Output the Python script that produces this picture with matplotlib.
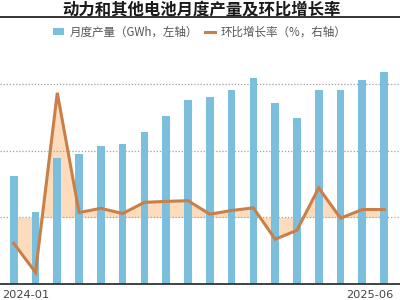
import matplotlib
matplotlib.use("Agg")
import matplotlib.pyplot as plt
from matplotlib.lines import Line2D
from matplotlib.patches import Patch
import matplotlib.transforms as mtransforms

plt.rcParams['font.family'] = ['Noto Sans CJK SC', 'DejaVu Sans']

months = ["2024-01", "2024-02", "2024-03", "2024-04", "2024-05", "2024-06",
          "2024-07", "2024-08", "2024-09", "2024-10", "2024-11", "2024-12",
          "2025-01", "2025-02", "2025-03", "2025-04", "2025-05", "2025-06"]
production = [65.0, 43.3, 75.8, 78.2, 82.9, 84.1, 91.7, 100.8, 110.4,
              112.4, 116.4, 123.6, 108.7, 99.9, 116.9, 116.9, 122.5, 127.5]
growth = [-15.5, -33.0, 75.0, 3.0, 5.5, 2.4, 9.1, 9.7, 10.1,
          2.0, 4.2, 5.8, -13.1, -7.7, 17.8, -0.4, 4.8, 4.8]
tick_labels = ["2024-01", "2025-06"]

BAR = "#7bbfdc"
LINE = "#c98048"
FILL = "#fcdcbd"

fig = plt.figure(figsize=(4, 3), dpi=100)
rect = [0, 0.0533, 1, 0.776]
ax_fill = fig.add_axes(rect)
ax = fig.add_axes(rect, sharex=ax_fill)
ax2 = fig.add_axes(rect, sharex=ax_fill)
for a in (ax_fill, ax, ax2):
    a.patch.set_visible(False)
ax_fill.set_zorder(0)
ax.set_zorder(1)
ax2.set_zorder(2)

x = list(range(len(months)))

ax_fill.fill_between(x, growth, 0, color=FILL, linewidth=0)
ax_fill.set_ylim(-40, 100)

ax.bar(x, production, width=0.35, color=BAR, zorder=2)
ax.set_ylim(0, 140)
ax.set_yticks([40, 80, 120])
ax.yaxis.grid(True, linestyle=(0, (1, 1.5)), color="#a0a0a0", linewidth=0.9)
ax.set_axisbelow(True)

ax2.plot(x, growth, color=LINE, linewidth=2.2, solid_joinstyle='miter')
ax2.set_ylim(-40, 100)

ax_fill.set_xlim(-0.63, 17.73)

for a in (ax_fill, ax, ax2):
    for s in ("top", "left", "right"):
        a.spines[s].set_visible(False)
    a.tick_params(axis='y', left=False, right=False, labelleft=False, labelright=False)
    a.tick_params(axis='x', bottom=False, labelbottom=False)
    a.spines["bottom"].set_visible(False)

ax.spines["bottom"].set_visible(True)
ax.spines["bottom"].set_color("#333333")
ax.spines["bottom"].set_linewidth(1.3)

ax.set_xticks([0, 17])
ax.set_xticklabels(tick_labels, fontfamily='DejaVu Sans')
ax.tick_params(axis='x', bottom=False, labelbottom=True, labelsize=8.2,
               labelcolor="#444444", pad=0.6)
lbls = ax.get_xticklabels()
lbls[0].set_horizontalalignment('left')
lbls[0].set_transform(lbls[0].get_transform() +
                      mtransforms.ScaledTranslation(-11.5 / 100, 0, fig.dpi_scale_trans))
lbls[1].set_horizontalalignment('right')
lbls[1].set_transform(lbls[1].get_transform() +
                      mtransforms.ScaledTranslation(9 / 100, 0, fig.dpi_scale_trans))

fig.text(0.503, 0.965, "动力和其他电池月度产量及环比增长率", ha='center', va='center',
         fontsize=11.8, fontweight='bold', color="#1a1a1a")
fig.add_artist(Line2D([0, 1], [1 - 16.8 / 300, 1 - 16.8 / 300], color="#333333",
                      linewidth=1.4, transform=fig.transFigure))

handles = [Patch(facecolor=BAR, edgecolor='none'),
           Line2D([0], [0], color=LINE, linewidth=2.2)]
fig.legend(handles, ["月度产量（GWh，左轴）", "环比增长率（%，右轴）"],
           loc='center', bbox_to_anchor=(0.5, 1 - 32 / 300), ncol=2, frameon=False,
           fontsize=8.3, labelcolor="#555555", handlelength=0.9, handleheight=0.6,
           handletextpad=0.5, columnspacing=0.6, borderaxespad=0)

fig.savefig("out.png", dpi=100)
